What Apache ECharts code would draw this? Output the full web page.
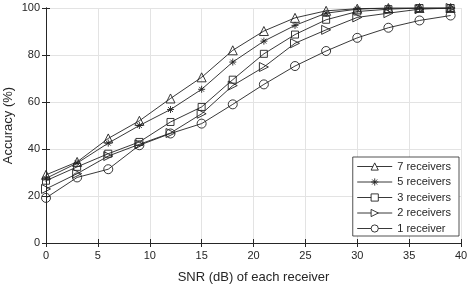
<!DOCTYPE html>
<html><head><meta charset="utf-8">
<script src="https://cdn.jsdelivr.net/npm/echarts@6/dist/echarts.min.js"></script>
<style>html,body{margin:0;padding:0;background:#fff}#c{width:471px;height:288px}</style>
</head><body><div id="c"></div>
<script>
const snr = [0,3,6,9,12,15,18,21,24,27,30,33,36,39];
const rx7 = [29,34.5,44.5,52,61.5,70.5,82,90.2,95.8,98.8,99.7,100,100,100];
const rx5 = [27.5,34,42.5,50,56.8,65.4,77,85.9,92.6,97.8,99.5,100,100,100];
const rx3 = [26.5,32.4,38,43,51.5,57.9,69.5,80.5,88.7,95,98.5,99.5,100,100];
const rx2 = [23,29.5,37,42,46.8,55,67,74.9,85,90.7,96,97.8,99.5,100];
const rx1 = [19.2,27.9,31.4,41.6,46.6,50.8,59,67.5,75.3,81.7,87.3,91.6,94.7,96.8];
const names = ['7 receivers','5 receivers','3 receivers','2 receivers','1 receiver'];
const xTicks = [0,5,10,15,20,25,30,35,40];
const yTicks = [0,20,40,60,80,100];

const axisCol = '#262626';
const font = 'Liberation Sans, Arial, sans-serif';
const star = 'path://M0,-5L0,5M-5,0L5,0M-3.5,-3.5L3.5,3.5M-3.5,3.5L3.5,-3.5';
const syms = [
  {symbol:'triangle', size:9, rot:0},
  {symbol:star, size:7, rot:0},
  {symbol:'rect', size:7, rot:0},
  {symbol:'triangle', size:9, rot:-90},
  {symbol:'circle', size:9, rot:0}
];
const data = [rx7,rx5,rx3,rx2,rx1];
const series = data.map((d,i)=>({
  name:names[i], type:'line',
  data:snr.map((x,j)=>[x,d[j]]),
  symbol:syms[i].symbol, symbolSize:syms[i].size, symbolRotate:syms[i].rot,
  showAllSymbol:true,
  lineStyle:{color:'#222',width:0.9},
  itemStyle:{color:'none',borderColor:'#222',borderWidth:0.9},
  emphasis:{disabled:true},
  z: 10 - i
}));

const chart = echarts.init(document.getElementById('c'),null,{renderer:'canvas'});
chart.setOption({
  animation:false,
  backgroundColor:'#fff',
  grid:{left:46,right:10,top:8,bottom:45,containLabel:false,outerBoundsMode:'none'},
  xAxis:[{
    type:'value',min:xTicks[0],max:xTicks[xTicks.length-1],interval:5,
    name:'SNR (dB) of each receiver',nameLocation:'middle',nameGap:28,
    nameTextStyle:{color:axisCol,fontFamily:font,fontSize:13},
    axisLine:{show:true,lineStyle:{color:axisCol,width:1}},
    axisTick:{show:true,inside:true,length:4,lineStyle:{color:axisCol}},
    axisLabel:{color:axisCol,fontFamily:font,fontSize:11,margin:7},
    splitLine:{show:true,lineStyle:{color:'#e3e3e3',width:1}}
  },{
    type:'value',position:'top',min:0,max:40,interval:5,
    axisLine:{show:true,lineStyle:{color:axisCol,width:1}},
    axisTick:{show:true,inside:true,length:4,lineStyle:{color:axisCol}},
    axisLabel:{show:false},splitLine:{show:false}
  }],
  yAxis:[{
    type:'value',min:yTicks[0],max:yTicks[yTicks.length-1],interval:20,
    name:'Accuracy (%)',nameLocation:'middle',nameGap:31,nameMoveOverlap:false,
    nameTextStyle:{color:axisCol,fontFamily:font,fontSize:13},
    axisLine:{show:true,lineStyle:{color:axisCol,width:1}},
    axisTick:{show:true,inside:true,length:4,lineStyle:{color:axisCol}},
    axisLabel:{color:axisCol,fontFamily:font,fontSize:11,margin:6},
    splitLine:{show:true,lineStyle:{color:'#e3e3e3',width:1}}
  },{
    type:'value',position:'right',min:0,max:100,interval:20,
    axisLine:{show:true,lineStyle:{color:axisCol,width:1}},
    axisTick:{show:true,inside:true,length:4,lineStyle:{color:axisCol}},
    axisLabel:{show:false},splitLine:{show:false}
  }],
  legend:{
    orient:'vertical',right:12,bottom:52,
    backgroundColor:'#fff',borderColor:axisCol,borderWidth:0.8,
    padding:[4,8,2,4],itemGap:4.5,itemWidth:35,itemHeight:9,
    textStyle:{color:axisCol,fontFamily:font,fontSize:11},
    lineStyle:{color:'#222',width:0.9},
    itemStyle:{color:'#fff',borderColor:'#222',borderWidth:0.9},
    data:names
  },
  series:series
});
</script></body></html>
